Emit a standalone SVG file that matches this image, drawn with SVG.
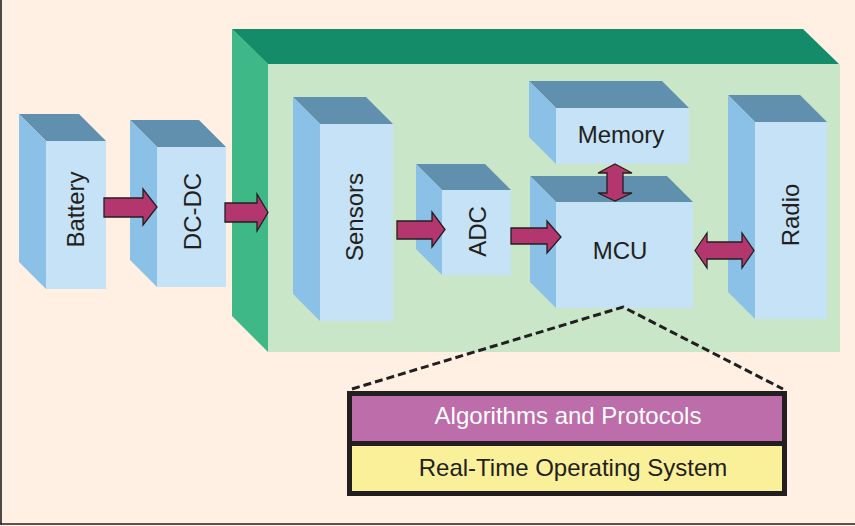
<svg xmlns="http://www.w3.org/2000/svg" width="855" height="526" viewBox="0 0 855 526">
<style>
.top{fill:#618fae}
.side{fill:#8bc1e6}
.front{fill:#c6e2f6}
.lbl{font-family:"Liberation Sans",Arial,sans-serif;font-size:24px;fill:#231f20;text-anchor:middle}
.arr{fill:#b3366f;stroke:#231f20;stroke-width:1.3;stroke-linejoin:miter}
</style>
<rect x="0" y="0" width="855" height="526" fill="#fff0e3"/>
<line x1="1" y1="0" x2="1" y2="524.5" stroke="#231f20" stroke-width="1.6"/>
<line x1="0" y1="524" x2="855" y2="524" stroke="#231f20" stroke-width="1.6"/>

<g id="container">
<polygon points="232,29 268,64 268,352 232,316" fill="#3db886"/>
<polygon points="232,29 803,29 839,64 268,64" fill="#148c69"/>
<rect x="268" y="64" width="572" height="288" fill="#c9e6c9"/>
</g>

<g id="battery">
<polygon class="top" points="19,114 79,114 106,141 46,141"/>
<polygon class="side" points="19,114 46,141 46,289 19,262"/>
<rect class="front" x="46" y="141" width="60" height="148"/>
<text class="lbl" transform="translate(83.5,209.5) rotate(-90)">Battery</text>
</g>

<g id="dcdc">
<polygon class="top" points="130,120 199,120 226,147 157,147"/>
<polygon class="side" points="130,120 157,147 157,287 130,260"/>
<rect class="front" x="157" y="147" width="69" height="140"/>
<text class="lbl" transform="translate(200.5,211.5) rotate(-90)">DC-DC</text>
</g>

<g id="sensors">
<polygon class="top" points="293,97 366,97 393,124 320,124"/>
<polygon class="side" points="293,97 320,124 320,321 293,294"/>
<rect class="front" x="320" y="124" width="73" height="197"/>
<text class="lbl" transform="translate(362.5,217) rotate(-90)">Sensors</text>
</g>

<g id="adc">
<polygon class="top" points="416,164 485,164 511,190 442,190"/>
<polygon class="side" points="416,164 442,190 442,275 416,249"/>
<rect class="front" x="442" y="190" width="69" height="85"/>
<text class="lbl" transform="translate(485.5,231.5) rotate(-90)">ADC</text>
</g>

<g id="memory">
<polygon class="top" points="529,81 662,81 689,108 556,108"/>
<polygon class="side" points="529,81 556,108 556,164 529,137"/>
<rect class="front" x="556" y="108" width="133" height="56"/>
<text class="lbl" x="621" y="143">Memory</text>
</g>

<g id="mcu">
<polygon class="top" points="530,176 667,176 693,202 556,202"/>
<polygon class="side" points="530,176 556,202 556,308 530,282"/>
<rect class="front" x="556" y="202" width="137" height="106"/>
<text class="lbl" x="620" y="259">MCU</text>
</g>

<g id="radio">
<polygon class="top" points="728,95 800,95 827,122 755,122"/>
<polygon class="side" points="728,95 755,122 755,319 728,292"/>
<rect class="front" x="755" y="122" width="72" height="197"/>
<text class="lbl" transform="translate(798.5,215) rotate(-90)">Radio</text>
</g>

<g id="connectors">
<polygon class="arr" points="104,198 143,198 143,189 157,207 143,225 143,217 104,217"/>
<polygon class="arr" points="225,203 257,203 257,194 268,212.5 257,231 257,222 225,222"/>
<polygon class="arr" points="397,221 432,221 432,212 445,229.5 432,247 432,239 397,239"/>
<polygon class="arr" points="511,228 547,228 547,221 561,237 547,253 547,244 511,244"/>
<polygon class="arr" points="615,164 632,173 623,173 623,193 632,193 615,201 598,193 607,193 607,173 598,173"/>
<polygon class="arr" points="695,250.5 707,233 707,242 742,242 742,233 754,250.5 742,268 742,259 707,259 707,268"/>
<polyline points="352,389 623,307 783,389" fill="none" stroke="#231f20" stroke-width="3" stroke-dasharray="8,4"/>
</g>

<g id="software">
<rect x="349.5" y="393.5" width="435" height="50" fill="#bd6daa"/>
<rect x="349.5" y="443.5" width="435" height="50" fill="#fbf09a"/>
<rect x="349.5" y="393.5" width="435" height="100" fill="none" stroke="#231f20" stroke-width="5"/>
<line x1="349.5" y1="443.5" x2="784.5" y2="443.5" stroke="#231f20" stroke-width="5"/>
<text class="lbl" x="568" y="423.5" style="fill:#ffffff">Algorithms and Protocols</text>
<text class="lbl" x="573" y="476">Real-Time Operating System</text>
</g>
</svg>
